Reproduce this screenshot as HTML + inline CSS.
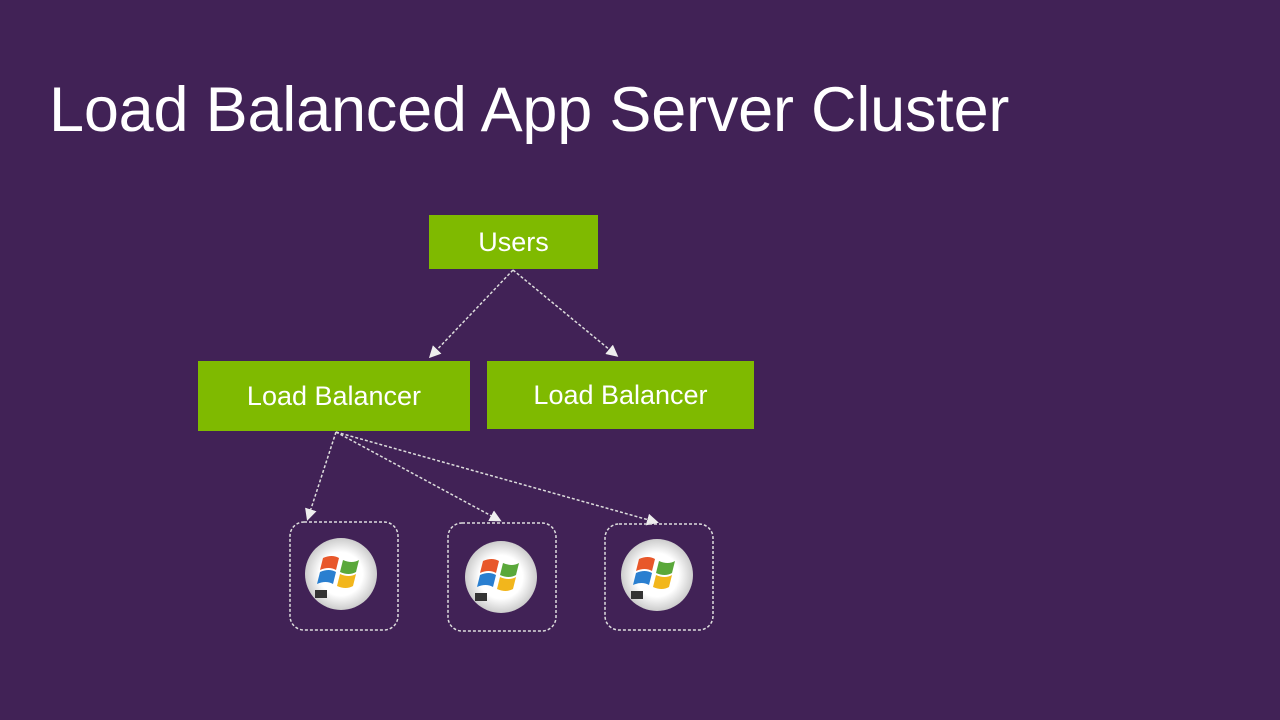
<!DOCTYPE html>
<html><head><style>
body{margin:0;width:1280px;height:720px;background:#412256;overflow:hidden;position:relative;font-family:"Liberation Sans",sans-serif}
.t{position:absolute;left:49px;top:74px;font-size:63px;color:#fff;font-weight:normal;white-space:nowrap;letter-spacing:-0.2px}
.b{position:absolute;background:#7fba00;color:#fff;display:flex;align-items:center;justify-content:center;font-size:27px}
</style></head><body>
<div class="t">Load Balanced App Server Cluster</div>
<div class="b" style="left:429px;top:215px;width:169px;height:54px">Users</div>
<div class="b" style="left:198px;top:361px;width:272px;height:70px">Load Balancer</div>
<div class="b" style="left:487px;top:361px;width:267px;height:68px">Load Balancer</div>
<svg width="1280" height="720" style="position:absolute;left:0;top:0">
<defs>
<marker id="a" markerWidth="8" markerHeight="8" refX="6" refY="4" orient="auto"><path d="M0,0 L8,4 L0,8z" fill="#eee"/></marker>
<radialGradient id="g"><stop offset="0.6" stop-color="#fff"/><stop offset="1" stop-color="#ccc"/></radialGradient>
<g id="i">
<circle cx="0" cy="0" r="36" fill="url(#g)"/>
<path d="M-18,-16 q9,-4 16,0 l-3,12 q-7,-4 -16,0z" fill="#e8572a"/>
<path d="M2,-14 q9,4 16,0 l-3,12 q-7,4 -16,0z" fill="#5aa83a"/>
<path d="M-21,-2 q9,-4 16,0 l-3,12 q-7,-4 -16,0z" fill="#2a7fd0"/>
<path d="M-1,0 q9,4 16,0 l-3,12 q-7,4 -16,0z" fill="#f2b61c"/>
<rect x="-26" y="16" width="12" height="8" fill="#333"/>
</g>
</defs>
<g stroke="#ddd" stroke-width="1.5" stroke-dasharray="3,2" fill="none" marker-end="url(#a)">
<line x1="513" y1="270" x2="431" y2="356"/>
<line x1="513" y1="270" x2="616" y2="355"/>
<line x1="336" y1="432" x2="308" y2="518"/>
<line x1="336" y1="432" x2="499" y2="520"/>
<line x1="336" y1="432" x2="656" y2="522"/>
</g>
<g stroke="#ddd" stroke-width="1.5" stroke-dasharray="3,2" fill="none">
<rect x="290" y="522" width="108" height="108" rx="14"/>
<rect x="448" y="523" width="108" height="108" rx="14"/>
<rect x="605" y="524" width="108" height="106" rx="14"/>
</g>
<use href="#i" x="341" y="574"/>
<use href="#i" x="501" y="577"/>
<use href="#i" x="657" y="575"/>
</svg>
</body></html>
